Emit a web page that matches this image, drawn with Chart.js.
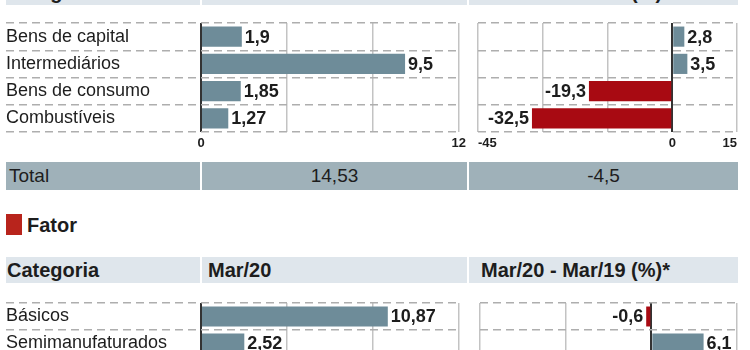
<!DOCTYPE html>
<html>
<head>
<meta charset="utf-8">
<script src="https://cdn.jsdelivr.net/npm/chart.js@4"></script>
<style>
html, body { margin:0; padding:0; background:#fff; width:750px; height:350px; overflow:hidden; }
body { position:relative; font-family:"Liberation Sans", Arial, sans-serif; color:#1d1d1d; }
.cell { position:absolute; box-sizing:border-box; white-space:nowrap; }
.hdr { background:#dfe6ec; font-weight:bold; font-size:20px; line-height:26px; height:26px; }
.tot { background:#9fb1b9; font-size:19px; line-height:28px; height:28px; }
.sq { position:absolute; left:6px; top:214px; width:16px; height:21px; background:#b8241c; }
.sec { position:absolute; left:27px; top:211px; font-weight:bold; font-size:20px; line-height:28px; }
canvas { position:absolute; }
</style>
</head>
<body>
<!-- header of the first block (cut off at the top of the picture) -->
<div class="cell hdr" style="left:6px;top:-21px;width:194px;padding-left:1px">Categoria</div>
<div class="cell hdr" style="left:202px;top:-21px;width:265px;padding-left:6px">Mar/20</div>
<div class="cell hdr" style="left:469px;top:-21px;width:269px;padding-left:12px">Mar/20 - Mar/19 (%)*</div>

<canvas id="c1" width="470" height="155" style="left:0;top:0"></canvas>
<canvas id="c2" width="280" height="155" style="left:470px;top:0"></canvas>

<div class="cell tot" style="left:6px;top:162px;width:194px;padding-left:3px">Total</div>
<div class="cell tot" id="tot1" style="left:202px;top:162px;width:265px;text-align:center"></div>
<div class="cell tot" id="tot2" style="left:469px;top:162px;width:269px;text-align:center"></div>

<div class="sq"></div>
<div class="sec">Fator</div>

<div class="cell hdr" style="left:6px;top:257px;width:194px;padding-left:1px">Categoria</div>
<div class="cell hdr" style="left:202px;top:257px;width:265px;padding-left:6px">Mar/20</div>
<div class="cell hdr" style="left:469px;top:257px;width:269px;padding-left:12px">Mar/20 - Mar/19 (%)*</div>

<canvas id="c3" width="470" height="100" style="left:0;top:280px"></canvas>
<canvas id="c4" width="280" height="100" style="left:470px;top:280px"></canvas>

<script>
// block 1: by category of use
const categoriasUso = ['Bens de capital', 'Intermediários', 'Bens de consumo', 'Combustíveis'];
const usoMar20 = [1.9, 9.5, 1.85, 1.27];
const usoVar = [2.8, 3.5, -19.3, -32.5];
const usoTotal = [14.53, -4.5];

// block 2: by factor
const categoriasFator = ['Básicos', 'Semimanufaturados'];
const fatorMar20 = [10.87, 2.52];
const fatorVar = [-0.6, 6.1];

// axes: [min, max, step, labelled ticks]
const eixoUsoMar20 = [0, 12, 4, [0, 12]];
const eixoUsoVar = [-45, 15, 15, [-45, 0, 15]];
const eixoFatorMar20 = [0, 15, 5, [0, 15]];
const eixoFatorVar = [-20, 10, 10, [-20, 0, 10]];

const FONT = '"Liberation Sans", Arial, sans-serif';
const BLUE = '#6e8c99';
const RED = '#a80a12';

function fmt(v) {
    return String(v).replace('.', ',');
}

document.getElementById('tot1').textContent = fmt(usoTotal[0]);
document.getElementById('tot2').textContent = fmt(usoTotal[1]);

const valueLabels = {
    id: 'valueLabels',
    afterDatasetsDraw(chart) {
        const ctx = chart.ctx;
        const vals = chart.data.datasets[0].data;
        chart.getDatasetMeta(0).data.forEach((bar, i) => {
            const v = vals[i];
            ctx.save();
            ctx.font = 'bold 18px ' + FONT;
            ctx.fillStyle = '#1d1d1d';
            ctx.textBaseline = 'middle';
            ctx.textAlign = v < 0 ? 'right' : 'left';
            ctx.fillText(fmt(v), v < 0 ? bar.x - 3 : bar.x + 3, bar.y + 1);
            ctx.restore();
        });
    }
};

function drawBars(id, labels, values, axis, withLabels, pad) {
    const [min, max, step, shown] = axis;
    const labelW = withLabels ? 195 : 0;
    return new Chart(document.getElementById(id), {
        type: 'bar',
        data: {
            labels: labels,
            datasets: [{
                data: values,
                backgroundColor: values.map(v => v < 0 ? RED : BLUE),
                barPercentage: 0.74,
                categoryPercentage: 1
            }]
        },
        plugins: [valueLabels],
        options: {
            indexAxis: 'y',
            responsive: false,
            animation: false,
            devicePixelRatio: 1,
            layout: { padding: pad },
            plugins: { legend: { display: false }, tooltip: { enabled: false } },
            scales: {
                x: {
                    type: 'linear',
                    min: min,
                    max: max,
                    ticks: {
                        stepSize: step,
                        padding: 4,
                        align: withLabels ? 'center' : 'inner',
                        color: '#1d1d1d',
                        font: { family: FONT, size: 13, weight: 'bold' },
                        callback: v => shown.includes(v) ? String(v) : ''
                    },
                    grid: {
                        drawTicks: false,
                        color: c => c.tick && c.tick.value === 0 ? '#333' : '#c3c3c3',
                        lineWidth: c => c.tick && c.tick.value === 0 ? 2 : 1.5
                    },
                    border: { display: false },
                    afterFit: s => { s.height = 23; }
                },
                y: {
                    ticks: {
                        display: withLabels,
                        crossAlign: 'far',
                        padding: 0,
                        color: '#1d1d1d',
                        font: { family: FONT, size: 18 }
                    },
                    grid: {
                        color: '#aeaeae',
                        lineWidth: 1.5,
                        drawTicks: withLabels,
                        tickLength: labelW,
                        tickBorderDash: [8, 5]
                    },
                    border: { display: false, dash: [8, 5] },
                    afterFit: s => { s.width = labelW; }
                }
            }
        }
    });
}

drawBars('c1', categoriasUso, usoMar20, eixoUsoMar20, true, { left: 6, right: 11, top: 23, bottom: 0 });
drawBars('c2', categoriasUso, usoVar, eixoUsoVar, false, { left: 8, right: 13, top: 23, bottom: 0 });
drawBars('c3', categoriasFator, fatorMar20, eixoFatorMar20, true, { left: 6, right: 11, top: 23, bottom: 0 });
drawBars('c4', categoriasFator, fatorVar, eixoFatorVar, false, { left: 10, right: 13, top: 23, bottom: 0 });
</script>
</body>
</html>
